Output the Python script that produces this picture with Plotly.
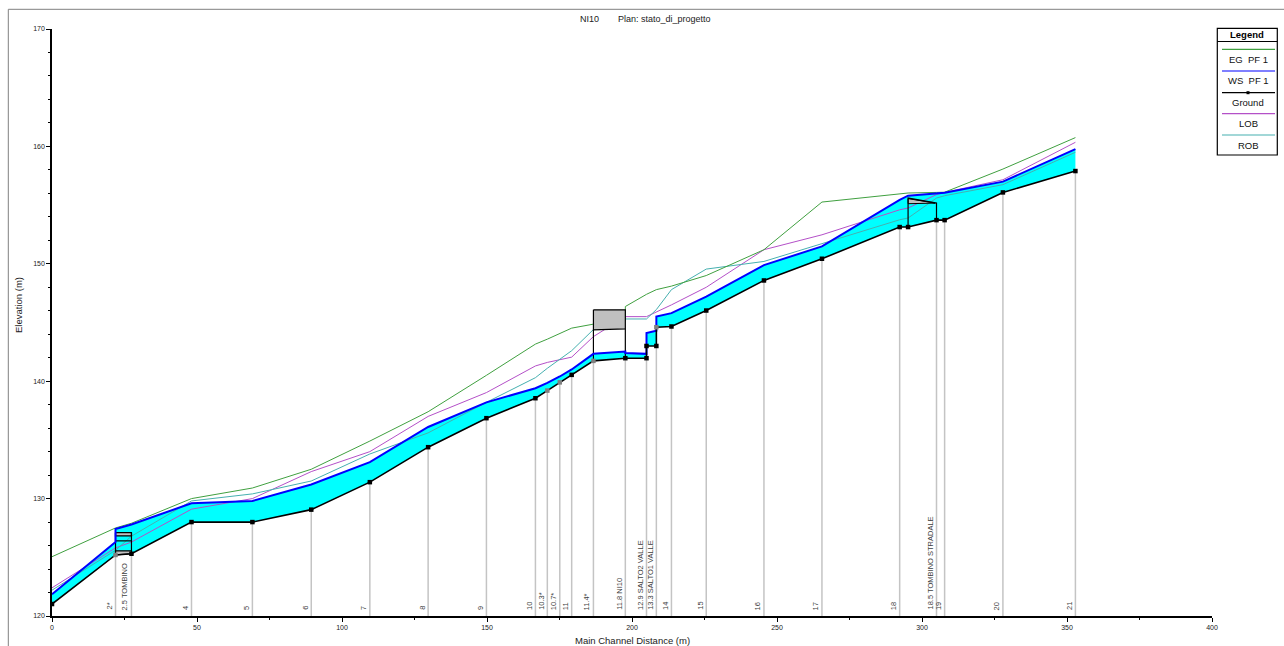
import plotly.graph_objects as go

# ---------------- data ----------------
ground_x = [0, 21.9, 27.4, 48.1, 69.1, 89.4, 109.6, 129.7, 149.8, 166.7, 170.8, 175.1, 179.2,
            186.7, 197.7, 205.0, 205.0, 208.4, 208.4, 213.6, 225.6, 245.5, 265.5, 292.3, 295.2,
            305.0, 307.8, 327.9, 352.9]
ground_y = [121.02, 125.2, 125.3, 128.0, 128.0, 129.06, 131.4, 134.38, 136.85, 138.55, 139.2, 139.9, 140.54,
            141.73, 141.96, 141.96, 143.0, 143.0, 144.6, 144.66, 146.02, 148.58, 150.43, 153.13, 153.13,
            153.72, 153.72, 156.08, 157.9]
ground_interp = [False, True, False, False, False, False, False, False, False, False, True, True, False,
                 True, False, False, False, False, True, False, False, False, False, False, False,
                 False, False, False, False]

ws_x = [0, 21.9, 21.9, 27.4, 48.1, 69.1, 89.4, 109.6, 129.7, 149.8, 166.7, 170.8, 175.1, 179.2,
        186.7, 197.7, 197.7, 205.0, 205.0, 208.4, 208.4, 213.6, 225.6, 245.5, 265.5, 292.3, 295.2,
        305.0, 307.8, 327.9, 352.9]
ws_y = [121.85, 126.3, 127.4, 127.8, 129.6, 129.8, 131.2, 133.1, 136.1, 138.2, 139.4, 139.85, 140.4, 141.0,
        142.33, 142.53, 142.4, 142.33, 144.1, 144.3, 145.5, 145.8, 147.2, 149.89, 151.48, 155.45, 155.8,
        155.95, 156.05, 157.0, 159.77]

eg_x = [0, 21.9, 27.4, 48.1, 69.1, 89.4, 109.6, 129.7, 149.8, 166.7, 170.8, 175.1, 179.2,
        186.7, 197.7, 197.7, 205.0, 208.4, 213.6, 225.6, 245.5, 265.5, 292.3, 295.2,
        305.0, 307.8, 327.9, 352.9]
eg_y = [125.05, 127.5, 127.9, 130.0, 130.9, 132.5, 134.9, 137.4, 140.5, 143.16, 143.58, 144.03, 144.52,
        144.86, 145.17, 146.36, 147.4, 147.8, 148.1, 149.0, 151.2, 155.26, 155.97, 156.03,
        156.08, 156.1, 158.07, 160.75]

bank_x = [0, 21.9, 27.4, 48.1, 69.1, 89.4, 109.6, 129.7, 149.8, 166.7, 170.8, 175.1, 179.2,
          186.7, 197.7, 205.0, 208.4, 213.6, 225.6, 245.5, 265.5, 292.3, 295.2,
          305.0, 307.8, 327.9, 352.9]
lob_y = [122.4, 125.8, 126.3, 129.1, 130.0, 132.3, 134.0, 137.0, 139.03, 141.3, 141.6, 141.8, 142.05,
         143.8, 145.5, 145.5, 145.9, 146.5, 148.0, 151.2, 152.47, 154.6, 154.75,
         155.9, 156.08, 157.16, 160.35]
rob_y = [122.2, 125.6, 126.8, 129.8, 130.4, 131.5, 133.8, 135.6, 138.2, 140.3, 141.1, 141.9, 142.6,
         144.4, 145.3, 145.3, 146.1, 147.8, 149.55, 150.2, 151.7, 153.75, 153.9,
         155.6, 155.8, 156.74, 159.5]

station_x = [21.9, 27.4, 48.1, 69.1, 89.4, 109.6, 129.7, 149.8, 166.7, 170.8, 175.1, 179.2, 186.7,
             197.7, 205.0, 208.4, 213.6, 225.6, 245.5, 265.5, 292.3, 305.0, 307.8, 327.9, 352.9]
station_labels = ["2*", "2.5 TOMBINO", "4", "5", "6", "7", "8", "9", "10", "10.3*", "10.7*", "11", "11.4*",
                  "11.8 NI10", "12.9 SALTO2 VALLE", "13.3 SALTO1 VALLE", "14", "15", "16", "17", "18",
                  "18.5 TOMBINO STRADALE", "19", "20", "21"]

x_ticks = [0, 50, 100, 150, 200, 250, 300, 350, 400]
y_ticks = [120, 130, 140, 150, 160, 170]

# ---------------- styles ----------------
C_EG = "rgb(64,160,64)"
C_WS = "rgb(0,0,255)"
C_LOB = "rgb(180,80,200)"
C_ROB = "rgb(70,176,176)"
C_GRAY = "#c0c0c0"
FONT = "Liberation Sans, Arial, sans-serif"

L, R, T, B = 52, 72, 29, 30
W, H = 1284, 646
PW, PH = W - L - R, H - T - B


def PX(p):
    return (p - L) / PW


def PY(p):
    return (H - B - p) / PH


fig = go.Figure()

# water fill
fig.add_trace(go.Scatter(
    x=ws_x + ground_x[::-1], y=ws_y + ground_y[::-1], fill="toself",
    fillcolor="rgb(0,255,255)", line=dict(width=0), mode="lines",
    hoverinfo="skip", showlegend=False))

# station vertical lines
vx, vy = [], []
for s in station_x:
    gmin = min(g for gx, g in zip(ground_x, ground_y) if abs(gx - s) < 1e-6)
    vx += [s, s, None]
    vy += [gmin, 120, None]
fig.add_trace(go.Scatter(x=vx, y=vy, mode="lines", line=dict(color="#c4c4c4", width=1.5),
                         hoverinfo="skip", showlegend=False))

# bank lines and EG
fig.add_trace(go.Scatter(x=bank_x, y=lob_y, mode="lines", line=dict(color=C_LOB, width=1), showlegend=False))
fig.add_trace(go.Scatter(x=bank_x, y=rob_y, mode="lines", line=dict(color=C_ROB, width=1), showlegend=False))
fig.add_trace(go.Scatter(x=eg_x, y=eg_y, mode="lines", line=dict(color=C_EG, width=1), showlegend=False))


def poly(xs, ys, fill=None, width=1.2):
    fig.add_trace(go.Scatter(x=xs, y=ys, mode="lines",
                             fill="toself" if fill else None, fillcolor=fill,
                             line=dict(color="black", width=width), hoverinfo="skip", showlegend=False))


# bridge NI10
poly([186.7, 197.7, 197.7, 186.7, 186.7], [146.08, 146.08, 144.46, 144.38, 146.08], fill=C_GRAY)
poly([186.7, 186.7], [144.38, 141.73])
poly([197.7, 197.7], [144.46, 141.96])
# culvert TOMBINO
poly([21.9, 27.4, 27.4, 21.9, 21.9], [127.1, 127.1, 126.82, 126.82, 127.1], fill=C_GRAY)
poly([21.9, 27.4, 27.4, 21.9, 21.9], [125.55, 125.55, 125.3, 125.2, 125.55], fill=C_GRAY)
poly([21.9, 21.9], [127.1, 125.2])
poly([27.4, 27.4], [127.1, 125.3])
poly([21.9, 27.4], [126.4, 126.4])
# culvert TOMBINO STRADALE
poly([295.2, 304.5, 295.2, 295.2], [155.55, 155.17, 155.12, 155.55], fill=C_GRAY, width=1)
poly([295.2, 295.2, 305.0, 305.0], [153.13, 155.6, 155.17, 153.72])

# WS and ground
fig.add_trace(go.Scatter(x=ws_x, y=ws_y, mode="lines", line=dict(color=C_WS, width=2), showlegend=False))
fig.add_trace(go.Scatter(x=ground_x, y=ground_y, mode="lines+markers",
                         line=dict(color="black", width=1.6),
                         marker=dict(symbol="square", size=4.5,
                                     color=["#808080" if i else "black" for i in ground_interp],
                                     line=dict(width=0)),
                         showlegend=False))

annotations = []
# station labels
for s, lab in zip(station_x, station_labels):
    annotations.append(dict(x=s, y=120, xref="x", yref="y", text=lab, textangle=-90,
                            xanchor="right", yanchor="bottom", xshift=0, yshift=4, showarrow=False,
                            font=dict(family=FONT, size=7.5, color="#404040")))

# titles
annotations.append(dict(x=PX(578), y=PY(19), xref="paper", yref="paper", text="NI10", showarrow=False,
                        xanchor="left", yanchor="middle", font=dict(family=FONT, size=9, color="#222")))
annotations.append(dict(x=PX(616), y=PY(19), xref="paper", yref="paper", text="Plan: stato_di_progetto",
                        showarrow=False, xanchor="left", yanchor="middle",
                        font=dict(family=FONT, size=9, color="#222")))
annotations.append(dict(x=0.5, y=PY(640), xref="paper", yref="paper", text="Main Channel Distance (m)",
                        showarrow=False, xanchor="center", yanchor="middle",
                        font=dict(family=FONT, size=9.5, color="#222")))
annotations.append(dict(x=PX(18), y=PY(305), xref="paper", yref="paper", text="Elevation (m)",
                        showarrow=False, xanchor="center", yanchor="middle", textangle=-90,
                        font=dict(family=FONT, size=9.5, color="#222")))

shapes = []
# outer frame (top + left)
shapes.append(dict(type="line", xref="paper", yref="paper", x0=PX(8.3), x1=PX(1290), y0=PY(9.3), y1=PY(9.3),
                   line=dict(color="#808080", width=1)))
shapes.append(dict(type="line", xref="paper", yref="paper", x0=PX(8.3), x1=PX(8.3), y0=PY(9.3), y1=PY(650),
                   line=dict(color="#808080", width=1)))

# legend box
shapes.append(dict(type="rect", xref="paper", yref="paper", x0=PX(1217.3), x1=PX(1277.3),
                   y0=PY(155), y1=PY(28.3), line=dict(color="black", width=1.2), fillcolor="white"))
shapes.append(dict(type="line", xref="paper", yref="paper", x0=PX(1217.3), x1=PX(1277.3),
                   y0=PY(41.5), y1=PY(41.5), line=dict(color="black", width=1)))
annotations.append(dict(x=PX(1247.3), y=PY(34.5), xref="paper", yref="paper", text="<b>Legend</b>",
                        showarrow=False, xanchor="center", yanchor="middle",
                        font=dict(family=FONT, size=9.5, color="black")))
legend_items = [("EG\u00a0 PF 1", C_EG, 49.3, 59.3), ("WS\u00a0 PF 1", C_WS, 71, 80.3),
                ("Ground", "black", 92.7, 102.7), ("LOB", C_LOB, 113.7, 123.3), ("ROB", C_ROB, 135, 145)]
for name, col, ly, ty in legend_items:
    shapes.append(dict(type="line", xref="paper", yref="paper", x0=PX(1222), x1=PX(1275),
                       y0=PY(ly), y1=PY(ly), line=dict(color=col, width=1.2)))
    annotations.append(dict(x=PX(1248), y=PY(ty), xref="paper", yref="paper", text=name, showarrow=False,
                            xanchor="center", yanchor="middle", font=dict(family=FONT, size=9.5, color="#111")))
shapes.append(dict(type="rect", xref="paper", yref="paper", x0=PX(1246.5), x1=PX(1249.5),
                   y0=PY(94.2), y1=PY(91.2), line=dict(width=0), fillcolor="black"))

fig.update_layout(
    width=W, height=H, margin=dict(l=L, r=R, t=T, b=B, autoexpand=False),
    paper_bgcolor="white", plot_bgcolor="white", showlegend=False,
    annotations=annotations, shapes=shapes,
    xaxis=dict(range=[0, 400], tickvals=x_ticks, showgrid=False, zeroline=False,
               showline=True, linecolor="black", linewidth=1.5, ticks="outside", ticklen=4,
               tickcolor="black", tickwidth=1, tickfont=dict(family=FONT, size=7, color="#222"),
               minor=dict(dtick=25, tick0=0, ticks="outside", ticklen=2, tickcolor="black", showgrid=False)),
    yaxis=dict(range=[120, 170], tickvals=y_ticks, showgrid=False, zeroline=False,
               showline=True, linecolor="black", linewidth=1.5, ticks="outside", ticklen=4,
               tickcolor="black", tickwidth=1, tickfont=dict(family=FONT, size=7, color="#222"),
               minor=dict(dtick=2, tick0=120, ticks="outside", ticklen=2, tickcolor="black", showgrid=False)),
)

fig.write_html("out.html", config={"displayModeBar": False},
               post_script="document.body.style.margin='0';document.body.style.overflow='hidden';")
